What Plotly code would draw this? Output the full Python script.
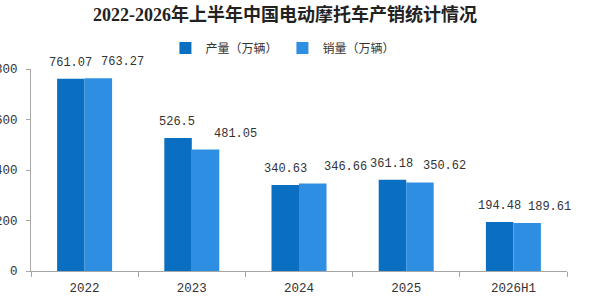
import plotly.graph_objects as go

categories = ["2022", "2023", "2024", "2025", "2026H1"]
production = [761.07, 526.5, 340.63, 361.18, 194.48]
sales = [763.27, 481.05, 346.66, 350.62, 189.61]
production_labels = ["761.07", "526.5", "340.63", "361.18", "194.48"]
sales_labels = ["763.27", "481.05", "346.66", "350.62", "189.61"]
y_ticks = [0, 200, 400, 600, 800]

# label horizontal offsets in px (style)
prod_shift = [-14, -15, -14, -15, -14]
sales_shift = [38, 44, 46, 38, 36]

num_font = dict(family="Liberation Mono, DejaVu Sans Mono, monospace", size=12, color="#333333")

fig = go.Figure()
fig.add_trace(go.Bar(name="产量（万辆）", x=categories, y=production,
                     marker=dict(color="#0A6FC0", line=dict(width=0))))
fig.add_trace(go.Bar(name="销量（万辆）", x=categories, y=sales,
                     marker=dict(color="#2E8FE2", line=dict(width=0))))

annotations = []
for i, (v, t, s) in enumerate(zip(production, production_labels, prod_shift)):
    annotations.append(dict(x=i, y=v, xref="x", yref="y", text=t, showarrow=False,
                            xanchor="center", yanchor="middle", xshift=s, yshift=16, font=num_font))
for i, (v, t, s) in enumerate(zip(sales, sales_labels, sales_shift)):
    annotations.append(dict(x=i, y=v, xref="x", yref="y", text=t, showarrow=False,
                            xanchor="center", yanchor="middle", xshift=s, yshift=16, font=num_font))

fig.update_layout(
    width=590, height=299,
    margin=dict(l=31, r=23, t=69, b=28, autoexpand=False),
    paper_bgcolor="white", plot_bgcolor="white",
    barmode="group", bargap=0.487, bargroupgap=0,
    title=dict(text="<b>2022-2026年上半年中国电动摩托车产销统计情况</b>",
               x=0.483, xref="container", xanchor="center",
               y=1 - 15 / 299, yref="container", yanchor="middle",
               font=dict(family="Liberation Serif, Noto Sans CJK SC, serif", size=18, color="#222222")),
    legend=dict(orientation="h", x=0.47, xanchor="center", y=1.104, yanchor="middle",
                font=dict(family="Noto Sans CJK SC, sans-serif", size=12, color="#333333"),
                itemwidth=30, traceorder="normal", bgcolor="rgba(0,0,0,0)"),
    annotations=annotations,
    showlegend=True,
)
fig.update_xaxes(type="category", range=[-0.5, len(categories) - 0.5], showline=True,
                 linecolor="#A6A6A6", linewidth=1,
                 ticks="outside", tickson="boundaries", ticklen=5, tickcolor="#A6A6A6",
                 showgrid=False, automargin=False, ticklabelstandoff=5,
                 tickfont=dict(family="Liberation Mono, DejaVu Sans Mono, monospace", size=12.5, color="#333333"))
fig.update_yaxes(range=[0, 800], tickvals=y_ticks, showline=True, linecolor="#A6A6A6", linewidth=1,
                 ticks="outside", ticklen=4, tickcolor="#A6A6A6", showgrid=False, zeroline=False,
                 automargin=False, ticklabelstandoff=6,
                 tickfont=dict(family="Liberation Mono, DejaVu Sans Mono, monospace", size=12.5, color="#333333"))

fig.write_html("out.html")
